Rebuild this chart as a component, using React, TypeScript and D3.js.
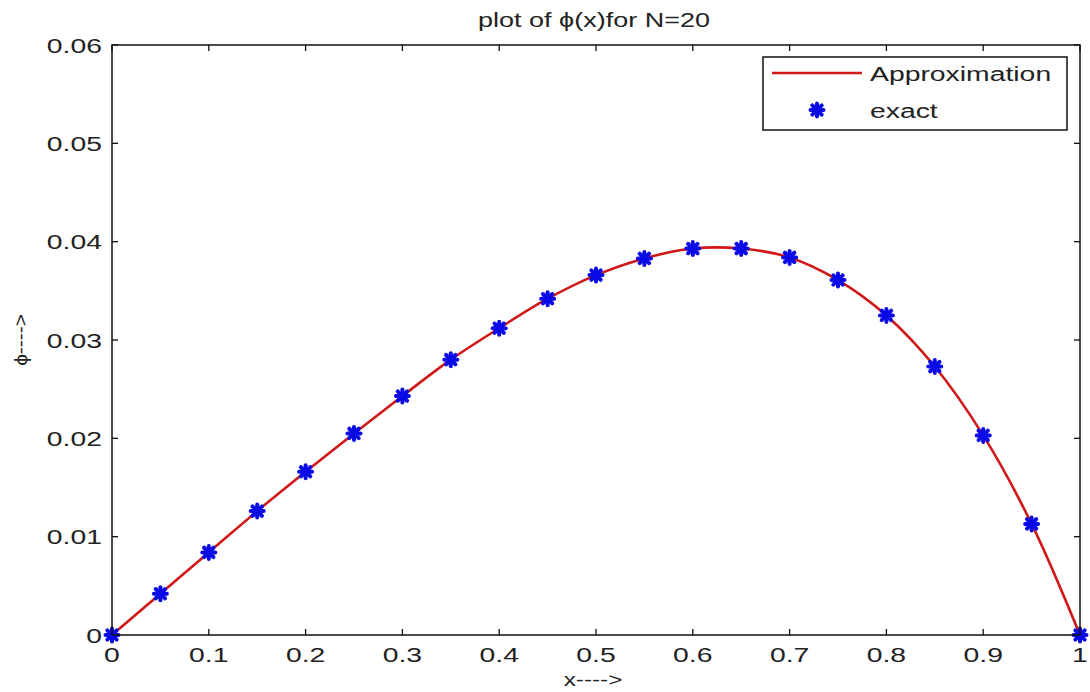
import React from "react";
import * as d3 from "d3";

const xValues = [0, 0.05, 0.1, 0.15, 0.2, 0.25, 0.3, 0.35, 0.4, 0.45, 0.5, 0.55, 0.6, 0.65, 0.7, 0.75, 0.8, 0.85, 0.9, 0.95, 1.0];
const approximation = [0, 0.0042, 0.0084, 0.0126, 0.0166, 0.0205, 0.0243, 0.028, 0.0312, 0.0342, 0.0366, 0.0383, 0.0393, 0.0393, 0.0384, 0.0361, 0.0325, 0.0273, 0.0203, 0.0113, 0];
const exact = [0, 0.0042, 0.0084, 0.0126, 0.0166, 0.0205, 0.0243, 0.028, 0.0312, 0.0342, 0.0366, 0.0383, 0.0393, 0.0393, 0.0384, 0.0361, 0.0325, 0.0273, 0.0203, 0.0113, 0];
const xTicks = [0, 0.1, 0.2, 0.3, 0.4, 0.5, 0.6, 0.7, 0.8, 0.9, 1];
const yTicks = [0, 0.01, 0.02, 0.03, 0.04, 0.05, 0.06];
const title = "plot of \u03d5(x)for N=20";
const xLabel = "x---->";
const yLabel = "\u03d5---->";
const legendLabels = ["Approximation", "exact"];

const W = 1090, H = 692;
const L = 112, R = 1080, T = 45, B = 635;
const FS = 21, SX = 1.35;
const FONT = "'Liberation Sans', Arial, sans-serif";
const RED = "#d01818";
const BLUE = "#0a0ae6";
const TXT = "#222";

function Txt({ x, y, anchor = "middle", rotate = 0, size = FS, children }: any) {
  return (
    <text
      transform={`translate(${x},${y}) rotate(${rotate}) scale(${SX},1)`}
      textAnchor={anchor}
      dominantBaseline="central"
      fontFamily={FONT}
      fontSize={size}
      fill={TXT}
    >
      {children}
    </text>
  );
}

function Star({ x, y }: { x: number; y: number }) {
  const r = 6.5;
  const d = r * 0.72;
  return (
    <g stroke={BLUE} strokeWidth={4} strokeLinecap="round">
      <line x1={x - r} y1={y} x2={x + r} y2={y} />
      <line x1={x} y1={y - r} x2={x} y2={y + r} />
      <line x1={x - d} y1={y - d} x2={x + d} y2={y + d} />
      <line x1={x - d} y1={y + d} x2={x + d} y2={y - d} />
    </g>
  );
}

export default function App() {
  const xs = d3.scaleLinear().domain([0, 1]).range([L, R]);
  const ys = d3.scaleLinear().domain([0, 0.06]).range([B, T]);
  const line = d3
    .line<number>()
    .x((_, i) => xs(xValues[i]))
    .y((d) => ys(d))
    .curve(d3.curveCatmullRom.alpha(0.5));
  const tk = 6;

  return (
    <svg width={W} height={H} style={{ position: "absolute", left: 0, top: 0, background: "#fff" }}>
      <rect x={0} y={0} width={W} height={H} fill="#fff" />
      {xTicks.map((t) => (
        <g key={"xt" + t} stroke="#111" strokeWidth={1.3}>
          <line x1={xs(t)} x2={xs(t)} y1={B} y2={B - tk} />
          <line x1={xs(t)} x2={xs(t)} y1={T} y2={T + tk} />
        </g>
      ))}
      {yTicks.map((t) => (
        <g key={"yt" + t} stroke="#111" strokeWidth={1.3}>
          <line x1={L} x2={L + tk} y1={ys(t)} y2={ys(t)} />
          <line x1={R} x2={R - tk} y1={ys(t)} y2={ys(t)} />
        </g>
      ))}
      <path d={line(approximation) || ""} fill="none" stroke={RED} strokeWidth={2.6} />
      {exact.map((v, i) => (
        <Star key={"p" + i} x={xs(xValues[i])} y={ys(v)} />
      ))}
      <rect x={L} y={T} width={R - L} height={B - T} fill="none" stroke="#111" strokeWidth={1.5} />
      {xTicks.map((t) => (
        <Txt key={"xl" + t} x={xs(t)} y={B + 19}>
          {d3.format("~g")(t)}
        </Txt>
      ))}
      {yTicks.map((t) => (
        <Txt key={"yl" + t} x={L - 10} y={ys(t)} anchor="end">
          {d3.format("~g")(t)}
        </Txt>
      ))}
      <Txt x={594} y={20} size={20}>{title}</Txt>
      <Txt x={593} y={680} size={18}>{xLabel}</Txt>
      <text
        transform={`translate(20,340) rotate(-90) scale(1.1,1)`}
        textAnchor="middle"
        dominantBaseline="central"
        fontFamily={FONT}
        fontSize={19}
        fill={TXT}
      >
        {yLabel}
      </text>
      <rect x={763} y={57} width={304} height={73} fill="#fff" stroke="#111" strokeWidth={1.5} />
      <line x1={772} x2={862} y1={73} y2={73} stroke={RED} strokeWidth={2.6} />
      <Star x={817} y={110} />
      <Txt x={870} y={73} anchor="start">{legendLabels[0]}</Txt>
      <Txt x={870} y={110} anchor="start">{legendLabels[1]}</Txt>
    </svg>
  );
}
